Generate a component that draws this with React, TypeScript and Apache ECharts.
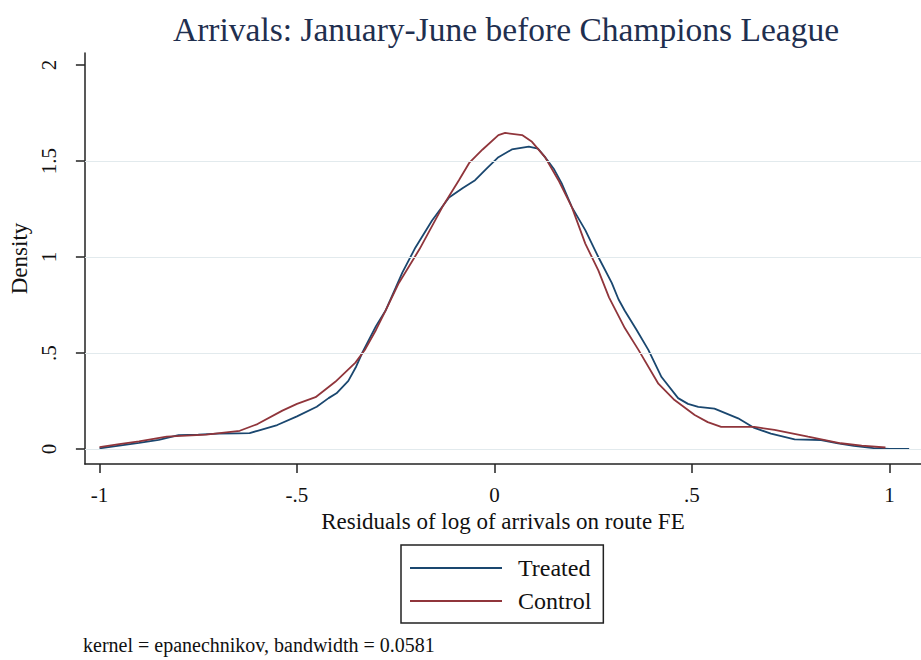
import React, { useEffect, useRef } from "react";
import * as echarts from "echarts";

const treatedX = [
  -1.0, -0.95, -0.9, -0.85, -0.8, -0.75, -0.7, -0.65, -0.62, -0.6, -0.55, -0.5, -0.45, -0.42, -0.4, -0.37,
  -0.35, -0.335, -0.3, -0.276, -0.25, -0.233, -0.2, -0.158, -0.115, -0.08, -0.049, -0.02, 0.01, 0.044,
  0.087, 0.11, 0.128, 0.15, 0.17, 0.196, 0.23, 0.263, 0.297, 0.314, 0.33, 0.36, 0.39, 0.423, 0.465, 0.49,
  0.516, 0.557, 0.617, 0.658, 0.7, 0.76, 0.827, 0.87, 0.91, 0.96, 1.0, 1.05,
];
const treatedY = [
  0.003, 0.018, 0.032, 0.048, 0.072, 0.075, 0.08, 0.082, 0.083, 0.095, 0.125, 0.17, 0.22, 0.265, 0.29, 0.355,
  0.43, 0.5, 0.64, 0.72, 0.84, 0.92, 1.05, 1.19, 1.31, 1.36, 1.4, 1.46, 1.52, 1.56,
  1.575, 1.565, 1.52, 1.46, 1.385, 1.26, 1.14, 1.0, 0.865, 0.78, 0.72, 0.62, 0.515, 0.375, 0.265, 0.235,
  0.22, 0.21, 0.16, 0.11, 0.08, 0.05, 0.047, 0.03, 0.016, 0.005, 0.0, 0.0,
];

const controlX = [
  -1.0, -0.95, -0.9, -0.83, -0.78, -0.73, -0.645, -0.6, -0.537, -0.5, -0.453, -0.403, -0.352, -0.327, -0.3,
  -0.276, -0.242, -0.19, -0.132, -0.09, -0.064, -0.03, 0.01, 0.027, 0.07, 0.095, 0.128, 0.162, 0.196, 0.23,
  0.263, 0.29, 0.33, 0.365, 0.415, 0.456, 0.507, 0.54, 0.574, 0.658, 0.709, 0.794, 0.877, 0.93, 0.99,
];
const controlY = [
  0.01, 0.025, 0.04, 0.065, 0.07, 0.075, 0.095, 0.13, 0.2, 0.235, 0.27, 0.35, 0.45, 0.52, 0.62,
  0.72, 0.865, 1.04, 1.26, 1.4, 1.49, 1.56, 1.635, 1.646, 1.635, 1.6, 1.52, 1.4, 1.26, 1.07,
  0.93, 0.79, 0.63, 0.515, 0.34, 0.255, 0.177, 0.14, 0.115, 0.115, 0.1, 0.064, 0.03, 0.018, 0.008,
];

const xTicks = [-1, -0.5, 0, 0.5, 1];
const xTickLabels = ["-1", "-.5", "0", ".5", "1"];
const yTicks = [0, 0.5, 1, 1.5, 2];
const yTickLabels = ["0", ".5", "1", "1.5", "2"];
const gridValues = [0, 0.5, 1, 1.5];

const FONT = '"Liberation Serif", "Times New Roman", serif';
const AXIS = "#222";
const TEXT = "#111";
const LEGEND_ICON = "path://M0,0M92,24M0,11H92V13H0Z";

function fmt(ticks: number[], labels: string[]) {
  return (v: number) => {
    const i = ticks.findIndex((t) => Math.abs(t - v) < 1e-6);
    return i >= 0 ? labels[i] : "";
  };
}

export default function App() {
  const ref = useRef<HTMLDivElement>(null);
  useEffect(() => {
    if (!ref.current) return;
    const chart = echarts.init(ref.current, null, { renderer: "svg" });
    const option: any = {
      animation: false,
      backgroundColor: "#ffffff",
      textStyle: { fontFamily: FONT },
      title: {
        text: "Arrivals: January-June before Champions League",
        left: 501,
        top: 7,
        textAlign: "center",
        textStyle: { fontFamily: FONT, fontSize: 33.5, fontWeight: "normal", color: "#1f2f4f" },
      },
      grid: { left: 82, right: 0, top: 53, bottom: 196 },
      xAxis: {
        type: "value",
        min: -1.037,
        max: 1.08,
        axisLine: { show: true, onZero: false, lineStyle: { color: AXIS, width: 1.5 } },
        axisTick: { show: true, customValues: xTicks, length: 9, lineStyle: { color: AXIS, width: 1.5 } },
        axisLabel: {
          customValues: xTicks,
          formatter: fmt(xTicks, xTickLabels),
          margin: 20,
          fontSize: 21,
          color: TEXT,
          fontFamily: FONT,
        },
        splitLine: { show: false },
        name: "Residuals of log of arrivals on route FE",
        nameLocation: "middle",
        nameGap: 37,
        nameTextStyle: { fontSize: 23, color: TEXT, fontFamily: FONT },
      },
      yAxis: {
        type: "value",
        min: -0.078,
        max: 2.0625,
        axisLine: { show: true, onZero: false, lineStyle: { color: AXIS, width: 1.5 } },
        axisTick: { show: true, customValues: yTicks, length: 9, lineStyle: { color: AXIS, width: 1.5 } },
        axisLabel: {
          customValues: yTicks,
          formatter: fmt(yTicks, yTickLabels),
          rotate: 90,
          margin: 25,
          fontSize: 21,
          color: TEXT,
          fontFamily: FONT,
        },
        splitLine: { show: false },
        name: "Density",
        nameLocation: "middle",
        nameGap: 44,
        nameTextStyle: { fontSize: 23, color: TEXT, fontFamily: FONT },
      },
      legend: {
        data: ["Treated", "Control"],
        orient: "vertical",
        left: 401,
        top: 545,
        padding: [11, 12, 10, 9],
        itemGap: 9,
        itemWidth: 92,
        itemHeight: 24,
        icon: LEGEND_ICON,
        itemStyle: { borderWidth: 0 },
        selectedMode: false,
        borderColor: "#222",
        borderWidth: 1.5,
        textStyle: { fontSize: 24, color: TEXT, fontFamily: FONT, padding: [0, 0, 0, 11] },
      },
      graphic: [
        {
          type: "text",
          left: 83,
          top: 635,
          style: {
            text: "kernel = epanechnikov, bandwidth = 0.0581",
            fontSize: 20,
            fill: TEXT,
            fontFamily: FONT,
          },
        },
      ],
      series: [
        {
          name: "grid",
          type: "line",
          data: [],
          silent: true,
          z: 1,
          markLine: {
            silent: true,
            symbol: ["none", "none"],
            label: { show: false },
            lineStyle: { color: "#e2eaed", width: 1.2, type: "solid" },
            data: gridValues.map((v) => ({ yAxis: v })),
          },
        },
        {
          name: "Treated",
          type: "line",
          data: treatedX.map((x, i) => [x, treatedY[i]]),
          symbol: "none",
          showSymbol: false,
          color: "#1a476f",
          lineStyle: { color: "#1a476f", width: 1.8 },
          z: 3,
        },
        {
          name: "Control",
          type: "line",
          data: controlX.map((x, i) => [x, controlY[i]]),
          symbol: "none",
          showSymbol: false,
          color: "#90353b",
          lineStyle: { color: "#90353b", width: 1.8 },
          z: 4,
        },
      ],
    };
    chart.setOption(option);
    return () => chart.dispose();
  }, []);
  return (
    <div
      ref={ref}
      style={{ position: "fixed", left: 0, top: 0, width: 921, height: 660, background: "#fff" }}
    />
  );
}
